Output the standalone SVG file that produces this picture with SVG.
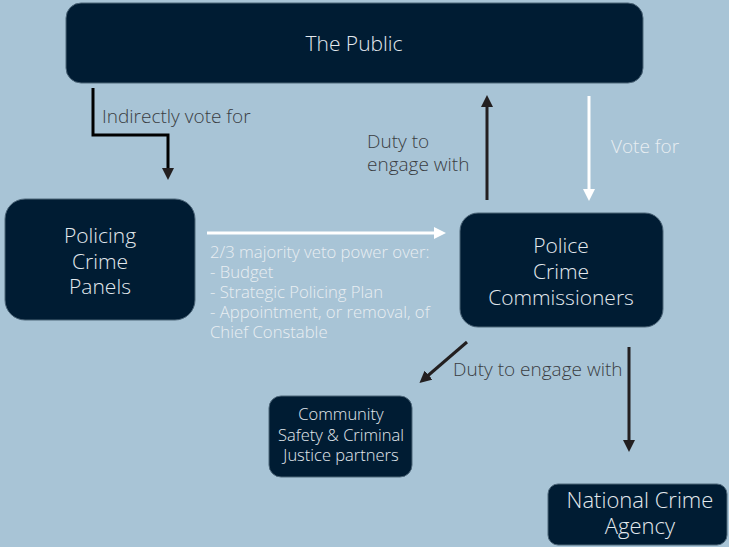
<svg xmlns="http://www.w3.org/2000/svg" width="729" height="547" viewBox="0 0 729 547">
<style>
.node{fill:#001c33;stroke:#4d6679;stroke-width:1}
.lbl{font-family:"Open Sans",Lato,"Liberation Sans",sans-serif;font-weight:300;fill:#e3e9ee;text-anchor:middle}
.big{font-size:21px}
.small{font-size:16.5px}
.dark{font-family:"Open Sans",Lato,"Liberation Sans",sans-serif;font-weight:300;font-size:19px;fill:#3a3d42}
.white{font-family:"Open Sans",Lato,"Liberation Sans",sans-serif;font-weight:300;fill:#e8eef2}
.blk{stroke:#231f20;stroke-width:3;fill:none}
.wht{stroke:#ffffff;stroke-width:3;fill:none}
</style>
<defs>
<marker id="ab" viewBox="0 0 10 10" refX="5" refY="5" markerWidth="4" markerHeight="4" orient="auto"><path d="M0,0 L10,5 L0,10 z" fill="#231f20"/></marker>
<marker id="aw" viewBox="0 0 10 10" refX="5" refY="5" markerWidth="4" markerHeight="4" orient="auto"><path d="M0,0 L10,5 L0,10 z" fill="#ffffff"/></marker>
</defs>
<rect width="729" height="547" fill="#a8c4d6"/>
<g id="connectors">
<path class="blk" d="M93,88 V135 H168 V174" marker-end="url(#ab)" style="stroke:#000"/>
<path class="blk" d="M487,200 V101" marker-end="url(#ab)"/>
<path class="wht" d="M589,96 V195" marker-end="url(#aw)"/>
<path class="wht" d="M207,233 H440" marker-end="url(#aw)"/>
<path class="blk" d="M467,342 L424,379" marker-end="url(#ab)"/>
<path class="blk" d="M629,347 V446" marker-end="url(#ab)"/>
<text class="dark" x="102" y="123">Indirectly vote for</text>
<text class="dark" x="367" y="148">Duty to</text>
<text class="dark" x="367" y="171">engage with</text>
<text class="white" x="611" y="153" font-size="19">Vote for</text>
<g class="white" font-size="16.7">
<text x="210" y="258">2/3 majority veto power over:</text>
<text x="210" y="278">- Budget</text>
<text x="210" y="298">- Strategic Policing Plan</text>
<text x="210" y="318">- Appointment, or removal, of</text>
<text x="210" y="338">Chief Constable</text>
</g>
<text class="dark" x="453" y="376">Duty to engage with</text>
</g>
<g id="public">
<rect class="node" x="66" y="3" width="577" height="80" rx="15"/>
<text class="lbl big" x="354" y="51">The Public</text>
</g>
<g id="panels">
<rect class="node" x="5" y="199" width="190" height="121" rx="20"/>
<text class="lbl big" x="100" y="243">Policing</text>
<text class="lbl big" x="100" y="269">Crime</text>
<text class="lbl big" x="100" y="294">Panels</text>
</g>
<g id="pcc">
<rect class="node" x="460" y="213" width="203" height="114" rx="18"/>
<text class="lbl big" x="561" y="253">Police</text>
<text class="lbl big" x="561" y="279">Crime</text>
<text class="lbl big" x="561" y="305">Commissioners</text>
</g>
<g id="community">
<rect class="node" x="269" y="396" width="143" height="81" rx="12"/>
<text class="lbl small" x="341" y="420">Community</text>
<text class="lbl small" x="341" y="441">Safety &amp; Criminal</text>
<text class="lbl small" x="341" y="461">Justice partners</text>
</g>
<g id="nca">
<rect class="node" x="548" y="484" width="179" height="61" rx="10"/>
<text class="lbl" font-size="22" x="640" y="508">National Crime</text>
<text class="lbl" font-size="22" x="640" y="534">Agency</text>
</g>
</svg>
